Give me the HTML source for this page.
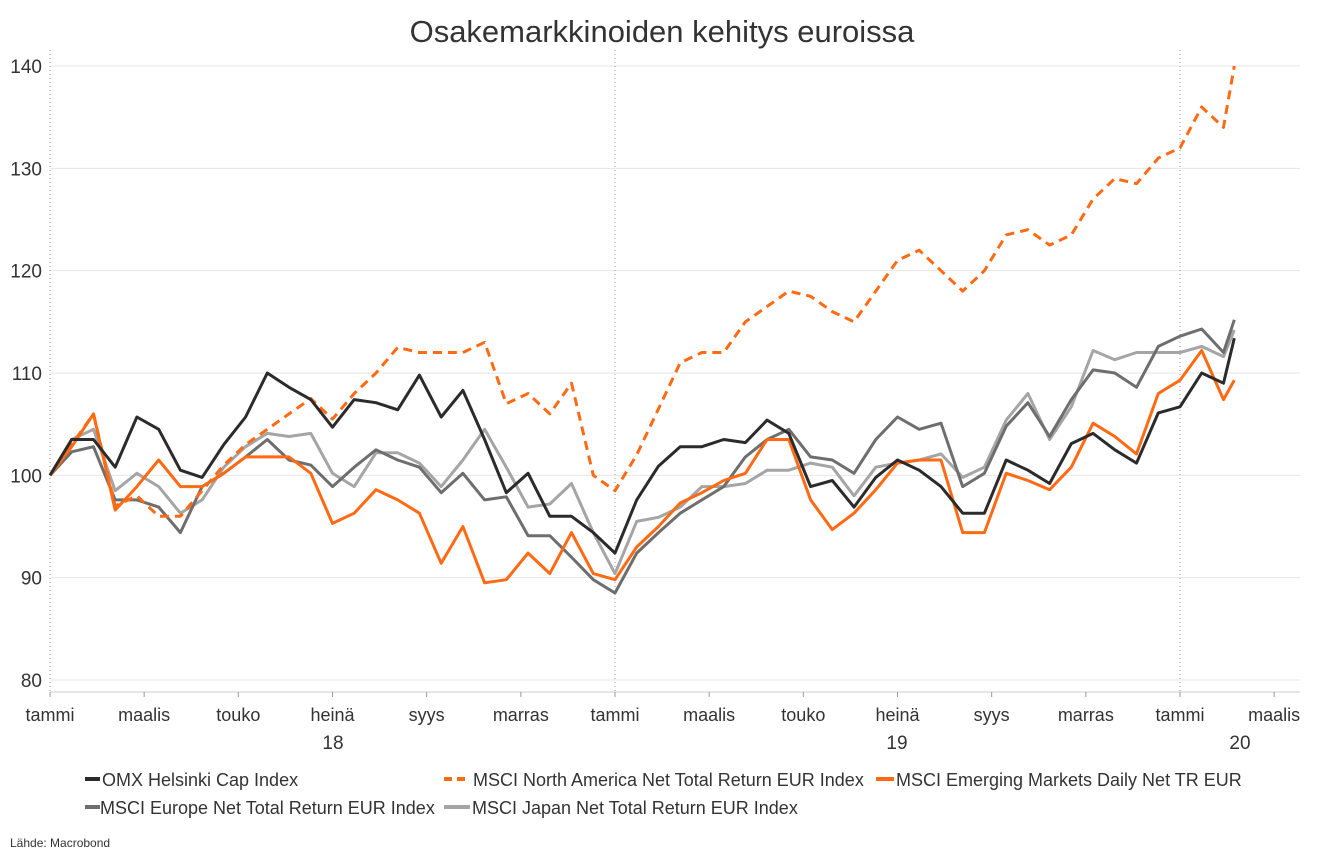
<!DOCTYPE html>
<html><head><meta charset="utf-8">
<style>
body{margin:0;background:#fff;font-family:"Liberation Sans",sans-serif;}
svg text{font-family:"Liberation Sans",sans-serif;}
</style></head>
<body>
<svg id="chart" width="1324" height="862" xmlns="http://www.w3.org/2000/svg">
<text x="662" y="42" text-anchor="middle" font-size="31" fill="#333" style="font-weight:300">Osakemarkkinoiden kehitys euroissa</text>
<g id="grid"></g>
<g id="yaxis"></g>
<g id="xaxis"></g>
<g id="series"></g>
<g>
 <g><line x1="85" y1="779" x2="100" y2="779" stroke="#2b2b2b" stroke-width="4"/><text x="102" y="786" font-size="18" fill="#333">OMX Helsinki Cap Index</text></g>
 <g><line x1="444" y1="779" x2="470" y2="779" stroke="#ff6a13" stroke-width="4" stroke-dasharray="8,5"/><text x="473" y="786" font-size="18" fill="#333">MSCI North America Net Total Return EUR Index</text></g>
 <g><line x1="876" y1="779" x2="894" y2="779" stroke="#ff6a13" stroke-width="4"/><text x="896" y="786" font-size="18" fill="#333">MSCI Emerging Markets Daily Net TR EUR</text></g>
 <g><line x1="85" y1="807" x2="100" y2="807" stroke="#6e6e6e" stroke-width="4"/><text x="100" y="814" font-size="18" fill="#333">MSCI Europe Net Total Return EUR Index</text></g>
 <g><line x1="444" y1="807" x2="470" y2="807" stroke="#a5a5a5" stroke-width="4"/><text x="472" y="814" font-size="18" fill="#333">MSCI Japan Net Total Return EUR Index</text></g>
</g>
<text x="10" y="847" font-size="12" fill="#333">Lähde: Macrobond</text>
</svg>
<script>
const weeks=[0,2,4,6,8,10,12,14,16,18,20,22,24,26,28,30,32,34,36,38,40,42,44,46,48,50,52,54,56,58,60,62,64,66,68,70,72,74,76,78,80,82,84,86,88,90,92,94,96,98,100,102,104,106,108,109];
const omx=[100,103.5,103.5,100.8,105.7,104.5,100.5,99.8,103,105.7,110,108.6,107.4,104.7,107.4,107.1,106.4,109.8,105.7,108.3,103.5,98.3,100.2,96,96,94.4,92.4,97.6,100.9,102.8,102.8,103.5,103.2,105.4,104.1,98.9,99.5,96.9,99.8,101.5,100.5,98.9,96.3,96.3,101.5,100.5,99.2,103.1,104.1,102.5,101.2,106.1,106.7,110,109,113.4];
const europe=[100,102.3,102.8,97.6,97.6,96.9,94.4,98.9,100.2,101.8,103.5,101.5,101,98.9,100.8,102.5,101.5,100.8,98.3,100.2,97.6,97.9,94.1,94.1,92,89.8,88.5,92.4,94.4,96.3,97.6,98.9,101.8,103.5,104.5,101.8,101.5,100.2,103.5,105.7,104.5,105.1,98.9,100.2,104.8,107.1,103.8,107.4,110.3,110,108.6,112.6,113.6,114.3,112,115.2];
const japan=[100,103.5,104.5,98.5,100.2,98.9,96.3,97.6,100.8,102.8,104.1,103.8,104.1,100.2,98.9,102.2,102.2,101.2,98.9,101.5,104.5,100.8,96.9,97.2,99.2,94.4,90.4,95.5,95.9,96.9,98.9,98.9,99.2,100.5,100.5,101.2,100.8,98,100.8,101.2,101.5,102.1,99.8,100.8,105.4,108,103.5,106.7,112.2,111.3,112,112,112,112.6,111.6,114.2];
const emerging=[100,102.8,106,96.6,98.9,101.5,98.9,98.9,100.2,101.8,101.8,101.8,100.2,95.3,96.3,98.6,97.6,96.3,91.4,95,89.5,89.8,92.4,90.4,94.4,90.4,89.8,93,95,97.3,98.3,99.5,100.2,103.5,103.5,97.6,94.7,96.3,98.6,101.2,101.5,101.5,94.4,94.4,100.2,99.5,98.6,100.8,105.1,103.8,102.1,108,109.3,112.2,107.4,109.3];
const northAmerica=[100,103,106,97,98,96,96,98.5,101,103,104.5,106,107.5,105.5,108,110,112.5,112,112,112,113,107,108,106,109,100,98.5,102,106.5,111,112,112,115,116.5,118,117.5,116,115,118,121,122,120,118,120,123.5,124,122.5,123.5,127,129,128.5,131,132,136,134,140];
const yTicks=[80,90,100,110,120,130,140];
const monthLabels=["tammi","maalis","touko","heinä","syys","marras","tammi","maalis","touko","heinä","syys","marras","tammi","maalis"];
const yearLabels=["18","19","20"];

const X0=50,YEARPX=565,PL=50,PR=1300,PT=50,PB=692;
const xw=w=>X0+w*YEARPX/52;
const xm=m=>X0+m*YEARPX/12;
const y=v=>680-(v-80)*10.233;
const NS="http://www.w3.org/2000/svg";
function mk(tag,attrs,parent){const e=document.createElementNS(NS,tag);for(const k in attrs)e.setAttribute(k,attrs[k]);parent.appendChild(e);return e;}
const grid=document.getElementById('grid'),ya=document.getElementById('yaxis'),xa=document.getElementById('xaxis'),sg=document.getElementById('series');
yTicks.forEach(t=>{
 const l=mk('line',{x1:PL,x2:PR,y1:y(t),y2:y(t),stroke:'#e6e6e6','stroke-width':1},grid);
 
 
 const tx=mk('text',{x:42,y:y(t)+7,'text-anchor':'end','font-size':19,fill:'#333'},ya);
 tx.textContent=t;
 
 
});
[0,12,24].forEach(m=>{
 const l=mk('line',{x1:xm(m),x2:xm(m),y1:PT,y2:PB,stroke:'#999','stroke-width':1,'stroke-dasharray':'1,3'},grid);
 
 
});
mk('line',{x1:PL,x2:PR,y1:PB,y2:PB,stroke:'#ccc','stroke-width':1},xa);
monthLabels.forEach((lab,i)=>{
 const m=i*2;
 mk('line',{x1:xm(m),x2:xm(m),y1:PB,y2:PB+5,stroke:'#999'},xa);
 const t=mk('text',{x:xm(m),y:721,'text-anchor':'middle','font-size':18,fill:'#333'},xa);
 t.textContent=lab;
 
 
});
yearLabels.forEach((lab,i)=>{
 const t=mk('text',{x:[333,897,1240][i],y:749,'text-anchor':'middle','font-size':19,fill:'#333'},xa);
 t.textContent=lab;
 
 
});
function line(vals,color,name,dash){
 const d=vals.map((v,i)=>(i?'L':'M')+xw(weeks[i]).toFixed(1)+' '+y(v).toFixed(1)).join(' ');
 const p=mk('path',{d:d,fill:'none',stroke:color,'stroke-width':3,'stroke-linejoin':'round'},sg);
 if(dash)p.setAttribute('stroke-dasharray','9,6');
 
 
}
line(japan,'#a5a5a5','series-japan');
line(europe,'#6e6e6e','series-europe');
line(emerging,'#ff6a13','series-emerging-markets');
line(northAmerica,'#ff6a13','series-north-america',true);
line(omx,'#2b2b2b','series-omx-helsinki');
</script>
</body></html>
